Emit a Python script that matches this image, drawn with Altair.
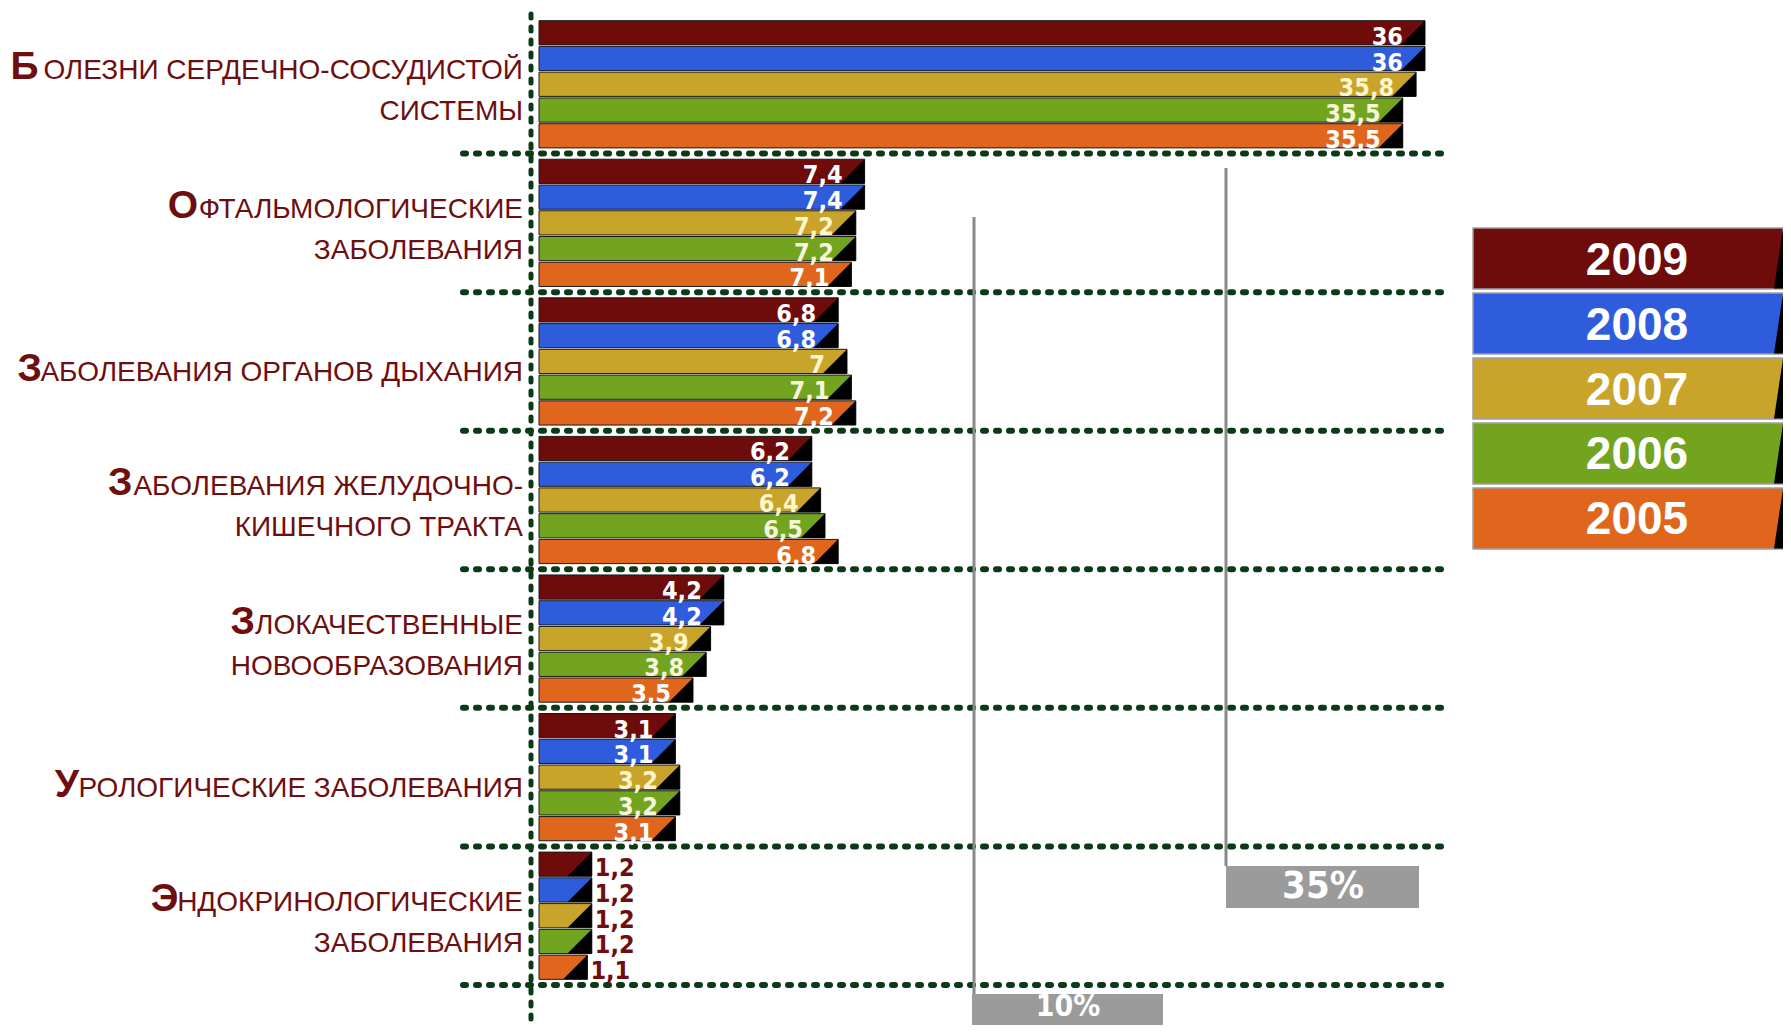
import altair as alt
import pandas as pd

# ---------------- data ----------------
categories = [
    "Болезни сердечно-сосудистой системы",
    "Офтальмологические заболевания",
    "Заболевания органов дыхания",
    "Заболевания желудочно-кишечного тракта",
    "Злокачественные новообразования",
    "Урологические заболевания",
    "Эндокринологические заболевания",
]
label_lines = [
    ["Болезни сердечно-сосудистой", "системы"],
    ["Офтальмологические", "заболевания"],
    ["Заболевания органов дыхания"],
    ["Заболевания желудочно-", "кишечного тракта"],
    ["Злокачественные", "новообразования"],
    ["Урологические заболевания"],
    ["Эндокринологические", "заболевания"],
]
years = ["2009", "2008", "2007", "2006", "2005"]
v2009 = [36, 7.4, 6.8, 6.2, 4.2, 3.1, 1.2]
v2008 = [36, 7.4, 6.8, 6.2, 4.2, 3.1, 1.2]
v2007 = [35.8, 7.2, 7.0, 6.4, 3.9, 3.2, 1.2]
v2006 = [35.5, 7.2, 7.1, 6.5, 3.8, 3.2, 1.2]
v2005 = [35.5, 7.1, 7.2, 6.8, 3.5, 3.1, 1.1]
callout_labels = ["10%", "35%"]

# ---------------- styles ----------------
bar_colors = ["#6e0b0b", "#2f5cdc", "#c9a42a", "#72a420", "#e0661e"]
value_text_colors = ["#ffffff", "#ffffff", "#fff6cc", "#f6f6dc", "#ffffff"]
label_red = "#6e0e0e"
sep_green = "#0c3a16"
LABEL_FONT = "Liberation Sans, Arial, sans-serif"
NARROW_FONT = "Liberation Sans Narrow, DejaVu Sans Condensed, Arial Narrow, sans-serif"
F_SMALL = 28
F_BIG = 39
LABEL_X = -16

series = [v2009, v2008, v2007, v2006, v2005]
rows = []
for yi, yr in enumerate(years):
    for ci, c in enumerate(categories):
        v = series[yi][ci]
        lab = (("%g" % v).replace(".", ","))
        rows.append({"cat": c, "year": yr, "v": v, "lab": lab,
                     "tcol": value_text_colors[yi]})
df = pd.DataFrame(rows)

# approximate Arial / Liberation Sans advance widths (per 1000 em) for small caps layout
W = {'А': 667, 'Б': 656, 'В': 667, 'Г': 542, 'Д': 688, 'Е': 667, 'Ж': 923, 'З': 604,
     'И': 722, 'Й': 722, 'К': 584, 'Л': 656, 'М': 833, 'Н': 722, 'О': 778, 'П': 722,
     'Р': 667, 'С': 722, 'Т': 611, 'У': 635, 'Ф': 760, 'Х': 667, 'Ц': 740, 'Ч': 667,
     'Ш': 918, 'Щ': 938, 'Ы': 833, 'Ь': 656, 'Э': 722, 'Ю': 998, 'Я': 722, ' ': 278, '-': 333}


def text_w(s, size):
    return 0.99 * sum(W.get(ch, 600) for ch in s) * size / 1000.0


lab_rows = []
for c, lines in zip(categories, label_lines):
    if len(lines) == 1:
        kinds = ["s"]
    else:
        kinds = ["l1", "l2"]
    for kind, line in zip(kinds, lines):
        up = line.upper()
        if kind in ("s", "l1"):
            big, rest = up[0], up[1:]
            bx = LABEL_X - text_w(rest, F_SMALL) - 1
        else:
            big, rest, bx = "", up, 0
        lab_rows.append({"cat": c, "kind": kind, "big": big, "rest": rest, "bx": bx})
lab_df = pd.DataFrame(lab_rows)

# ---------------- scales ----------------
xs = alt.Scale(domain=[0, 8, 28, 36], range=[0, 352, 530, 886], nice=False, zero=False)
ys = alt.Scale(domain=categories, paddingInner=0, paddingOuter=0)
yoff = alt.Scale(domain=years, paddingInner=0.06, paddingOuter=0.22)
col = alt.Scale(domain=years, range=bar_colors)

Ycat = alt.Y("cat:N", scale=ys, axis=None, sort=categories)

base = alt.Chart(df)

bars = base.mark_bar(stroke="#1a1a1a", strokeWidth=1).encode(
    x=alt.X("v:Q", scale=xs, axis=None),
    x2=alt.datum(0),
    y=Ycat,
    yOffset=alt.YOffset("year:N", scale=yoff, sort=years),
    color=alt.Color("year:N", scale=col, legend=None),
)

tri = base.mark_point(shape="M 0 -1 L 0 1 L -2 1 Z", filled=True, color="#000000",
                      opacity=1, size=590, strokeWidth=0).encode(
    x=alt.X("v:Q", scale=xs, axis=None),
    y=Ycat,
    yOffset=alt.YOffset("year:N", scale=yoff, sort=years),
)

vals_in = base.transform_filter("datum.v >= 2").mark_text(
    align="right", baseline="middle", dx=-22, dy=4, fontSize=25, fontWeight="bold",
    font=NARROW_FONT).encode(
    x=alt.X("v:Q", scale=xs, axis=None),
    y=Ycat,
    yOffset=alt.YOffset("year:N", scale=yoff, sort=years),
    text="lab:N",
    color=alt.Color("tcol:N", scale=None),
)

vals_out = base.transform_filter("datum.v < 2").mark_text(
    align="left", baseline="middle", dx=3, dy=4, fontSize=25, fontWeight="bold",
    font=NARROW_FONT, color=label_red).encode(
    x=alt.X("v:Q", scale=xs, axis=None),
    y=Ycat,
    yOffset=alt.YOffset("year:N", scale=yoff, sort=years),
    text="lab:N",
)

seps = alt.Chart(pd.DataFrame({"cat": categories})).mark_rule(
    color=sep_green, strokeWidth=6, strokeDash=[3, 10], strokeCap="round").encode(
    y=alt.Y("cat:N", scale=ys, axis=None, sort=categories, bandPosition=1),
    x=alt.value(-76), x2=alt.value(909),
)

vaxis = alt.Chart(pd.DataFrame({"a": [0]})).mark_rule(
    color=sep_green, strokeWidth=5, strokeDash=[4, 9], strokeCap="round").encode(
    x=alt.value(-8), y=alt.value(-1), y2=alt.value(1004),
)

label_layers = []
for kind, dy in [("l1", -5), ("l2", 36), ("s", 20)]:
    sub = alt.Chart(lab_df).transform_filter(f"datum.kind == '{kind}'")
    label_layers.append(sub.mark_text(
        align="right", baseline="alphabetic", dy=dy, fontSize=F_SMALL, font=LABEL_FONT,
        color=label_red).encode(x=alt.value(LABEL_X), y=Ycat, text="rest:N"))
    if kind != "l2":
        label_layers.append(sub.mark_text(
            align="right", baseline="alphabetic", dy=dy, fontSize=F_BIG, fontWeight="bold",
            font=LABEL_FONT, color=label_red).encode(
            x=alt.X("bx:Q", scale=None), y=Ycat, text="big:N"))

# callouts (annotation boxes, layout in pixels)
co = pd.DataFrame({
    "label": callout_labels,
    "lx": [435, 687], "ly1": [202, 153], "ly2": [979, 851],
    "bx1": [433, 687], "bx2": [624, 880], "by1": [979, 851], "by2": [1030, 893],
    "tx": [529, 784], "ty": [992, 872], "fs": [30, 38],
})
cbase = alt.Chart(co)
c_line = cbase.mark_rule(color="#8a8a8a", strokeWidth=3).encode(
    x=alt.X("lx:Q", scale=None), y=alt.Y("ly1:Q", scale=None), y2="ly2:Q")
c_box = cbase.mark_rect(color="#9b9b9b").encode(
    x=alt.X("bx1:Q", scale=None), x2="bx2:Q", y=alt.Y("by1:Q", scale=None), y2="by2:Q")
c_txt = cbase.mark_text(color="#ffffff", fontWeight="bold", font=NARROW_FONT,
                        baseline="middle", align="center").encode(
    x=alt.X("tx:Q", scale=None), y=alt.Y("ty:Q", scale=None), text="label:N",
    size=alt.Size("fs:Q", scale=None))

main = alt.layer(seps, vaxis, bars, tri, vals_in, vals_out, *label_layers,
                 c_line, c_box, c_txt)

# legend panel
leg_df = pd.DataFrame({"year": years})
ly = alt.Y("year:N", scale=alt.Scale(domain=years, range=[213, 534], paddingInner=0.06,
                                     paddingOuter=0), axis=None, sort=years)
leg_box = alt.Chart(leg_df).mark_rect(stroke="#a0a0a0", strokeWidth=1.5).encode(
    x=alt.value(934), x2=alt.value(1244), y=ly,
    color=alt.Color("year:N", scale=col, legend=None))
leg_tri = alt.Chart(leg_df).mark_point(shape="M 0 -1 L 0 1 L -0.3 1 Z", filled=True,
                                        color="#000000", opacity=1, size=3600,
                                        strokeWidth=0).encode(x=alt.value(1244), y=ly)
leg_txt = alt.Chart(leg_df).mark_text(color="#ffffff", fontSize=46, fontWeight="bold",
                                      font=LABEL_FONT, baseline="middle", dy=2).encode(
    x=alt.value(1098), y=ly, text="year:N")
legend = alt.layer(leg_box, leg_tri, leg_txt)

chart = alt.layer(main, legend).resolve_scale(y="independent").properties(
    width=1244, height=970,
    autosize=alt.AutoSizeParams(type="none"),
    padding={"left": 531, "top": 7, "right": 0, "bottom": 40},
    background="#ffffff",
).configure_view(stroke=None)

chart.save("out.html", embed_options={"renderer": "svg", "actions": False})
